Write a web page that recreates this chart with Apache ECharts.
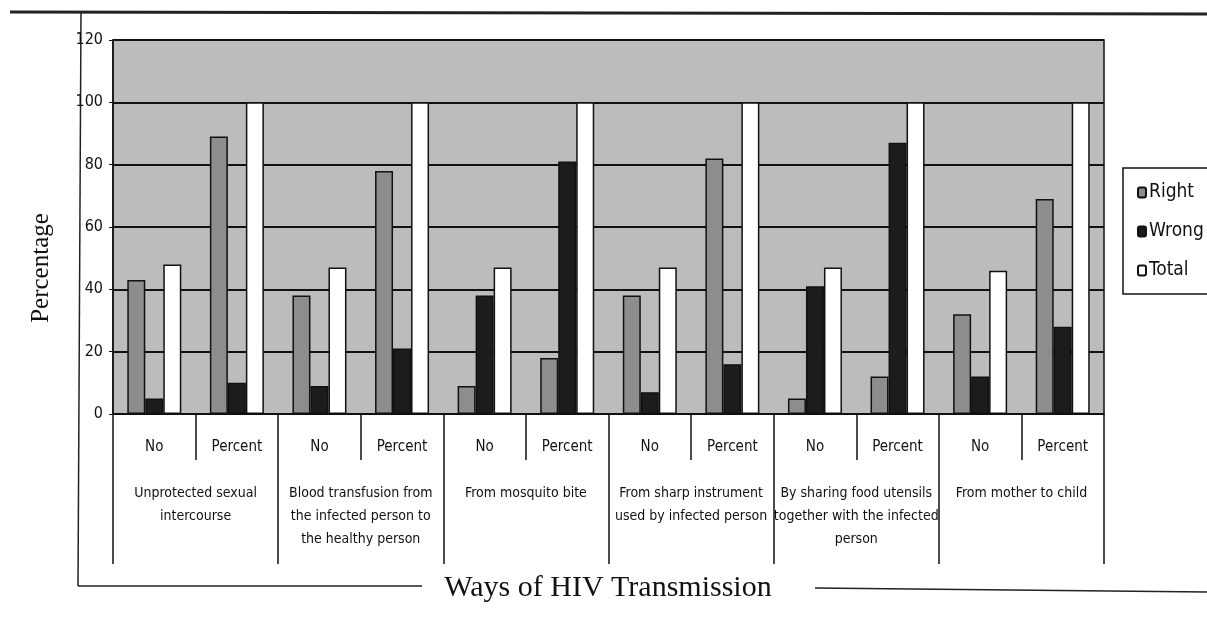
<!DOCTYPE html>
<html>
<head>
<meta charset="utf-8">
<script src="https://cdn.jsdelivr.net/npm/echarts@6/dist/echarts.min.js"></script>
<style>
html,body{margin:0;padding:0;background:#fff;}
#chart{width:1207px;height:625px;}
</style>
</head>
<body>
<div id="chart"></div>
<script>
// ---- data ----
var subCategories = ['No','Percent','No','Percent','No','Percent','No','Percent','No','Percent','No','Percent'];
var groupLabels = [
  'Unprotected sexual\nintercourse',
  'Blood transfusion from\nthe infected person to\nthe healthy person',
  'From mosquito bite',
  'From sharp instrument\nused by infected person',
  'By sharing food utensils\ntogether with the infected\nperson',
  'From mother to child'
];
var rightValues = [43, 89, 38, 78, 9, 18, 38, 82, 5, 12, 32, 69];
var wrongValues = [5, 10, 9, 21, 38, 81, 7, 16, 41, 87, 12, 28];
var totalValues = [48, 100, 47, 100, 47, 100, 47, 100, 47, 100, 46, 100];
var yTicks = [0, 20, 40, 60, 80, 100, 120];

var narrow = "'Liberation Sans Narrow','DejaVu Sans Condensed','Arial Narrow',sans-serif";
var serif = "'Liberation Serif','DejaVu Serif','Times New Roman',serif";

var chart = echarts.init(document.getElementById('chart'));
var barBorder = {borderColor:'#111', borderWidth:1.5};

chart.setOption({
  animation:false,
  backgroundColor:'#ffffff',
  grid:{left:113, right:103, top:40, bottom:211, show:true, backgroundColor:'#bcbcbc', borderColor:'#111', borderWidth:1.5},
  legend:{
    orient:'vertical', left:1123, top:168,
    padding:[15,60,14,14],
    itemWidth:8, itemHeight:10, itemGap:20,
    borderColor:'#111', borderWidth:1.5, backgroundColor:'#fff',
    textStyle:{fontFamily:narrow, fontSize:19, color:'#111', padding:[0,0,0,-2]},
    data:['Right','Wrong','Total']
  },
  xAxis:[
    {
      type:'category', data:subCategories, position:'bottom',
      axisLine:{show:true, lineStyle:{color:'#111', width:1.5}},
      axisTick:{show:true, length:46, interval:0, lineStyle:{color:'#111', width:1.5}},
      axisLabel:{interval:0, margin:26, fontFamily:narrow, fontSize:15, color:'#111'},
      splitLine:{show:false}
    },
    {
      type:'category', data:groupLabels, position:'bottom', gridIndex:0,
      axisLine:{show:false},
      axisTick:{show:true, length:150, interval:0, lineStyle:{color:'#111', width:1.5}},
      axisLabel:{interval:0, margin:68, fontFamily:narrow, fontSize:14, color:'#111', lineHeight:23, align:'center'},
      splitLine:{show:false}
    }
  ],
  yAxis:{
    type:'value', min:yTicks[0], max:yTicks[yTicks.length-1], interval:20,
    axisLine:{show:true, lineStyle:{color:'#111', width:1.5}},
    axisTick:{show:true, length:4, lineStyle:{color:'#111'}},
    axisLabel:{fontFamily:narrow, fontSize:16, color:'#111', margin:10},
    splitLine:{show:true, lineStyle:{color:'#111', width:2}}
  },
  series:[
    {name:'Right', type:'bar', data:rightValues, barWidth:18, barGap:'0%',
     itemStyle:Object.assign({color:'#8d8d8d'}, barBorder)},
    {name:'Wrong', type:'bar', data:wrongValues, barWidth:18, barGap:'0%',
     itemStyle:Object.assign({color:'#1c1c1c'}, barBorder)},
    {name:'Total', type:'bar', data:totalValues, barWidth:18, barGap:'0%',
     itemStyle:Object.assign({color:'#ffffff'}, barBorder)}
  ],
  graphic:[
    {type:'line', shape:{x1:10, y1:12, x2:1207, y2:14}, style:{stroke:'#222', lineWidth:3}},
    {type:'line', shape:{x1:81, y1:12, x2:78, y2:586}, style:{stroke:'#222', lineWidth:1.5}},
    {type:'line', shape:{x1:78, y1:586, x2:422, y2:586}, style:{stroke:'#222', lineWidth:1.5}},
    {type:'line', shape:{x1:815, y1:588, x2:1207, y2:592}, style:{stroke:'#222', lineWidth:1.5}},
    {type:'text', x:608, y:588, style:{text:'Ways of HIV Transmission', font:'30px ' + serif, fill:'#111', align:'center', verticalAlign:'middle'}},
    {type:'text', x:41, y:268, rotation:Math.PI/2, style:{text:'Percentage', font:'25px ' + serif, fill:'#111', align:'center', verticalAlign:'middle'}}
  ]
});
</script>
</body>
</html>
